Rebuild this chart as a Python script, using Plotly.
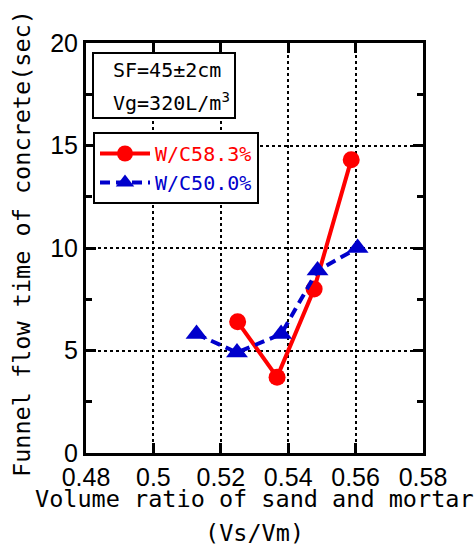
import plotly.graph_objects as go

# ---- data ----
wc583_x = [0.525, 0.5367, 0.5477, 0.5587]
wc583_y = [6.4, 3.7, 8.0, 14.3]
wc500_x = [0.5128, 0.5248, 0.5379, 0.5487, 0.5606]
wc500_y = [5.8, 4.9, 5.8, 8.9, 10.0]
series_names = ["W/C58.3%", "W/C50.0%"]
x_tickvals = [0.48, 0.50, 0.52, 0.54, 0.56, 0.58]
x_ticktext = ["0.48", "0.5", "0.52", "0.54", "0.56", "0.58"]
y_tickvals = [0, 5, 10, 15, 20]
y_ticktext = ["0", "5", "10", "15", "20"]

W, H = 476, 550
L, R, T, B = 86, 53, 43, 97
PW, PH = W - L - R, H - T - B

def px(x):
    return (x - L) / PW

def py(y):
    return (H - B - y) / PH

MONO = "DejaVu Sans Mono"
SANS = "Liberation Sans, Arial"
RED = "#FF0000"
BLUE = "#0000CC"

fig = go.Figure()
fig.add_trace(go.Scatter(
    x=wc583_x, y=wc583_y, mode="lines+markers",
    name=f'<span style="color:{RED}">{series_names[0]}</span>',
    line=dict(color=RED, width=4),
    marker=dict(symbol="circle", size=17, color=RED),
))
fig.add_trace(go.Scatter(
    x=wc500_x, y=wc500_y, mode="lines+markers",
    name=f'<span style="color:{BLUE}">{series_names[1]}</span>',
    line=dict(color=BLUE, width=4, dash="10px,6px"),
    marker=dict(symbol="triangle-up", size=19, color=BLUE),
))

axis_common = dict(
    showline=True, linecolor="black", linewidth=3, mirror="ticks",
    ticks="inside", ticklen=10, tickwidth=2.5, tickcolor="black",
    showgrid=True, gridcolor="black", gridwidth=2, griddash="3px,3px",
    zeroline=False, tickfont=dict(family=SANS, size=25, color="black"),
)

fig.update_xaxes(range=[0.48, 0.58], tickmode="array", tickvals=x_tickvals,
                 ticktext=x_ticktext, **axis_common)
fig.update_yaxes(range=[0, 20], tickmode="array", tickvals=y_tickvals,
                 ticktext=y_ticktext,
                 minor=dict(dtick=2.5, ticks="inside", ticklen=6, tickwidth=2.5,
                            tickcolor="black", showgrid=False),
                 **axis_common)

annotations = [
    dict(text="Volume ratio of sand and mortar", x=0.5, y=py(499), xref="paper", yref="paper",
         xanchor="center", yanchor="middle", showarrow=False,
         font=dict(family=MONO, size=23.5, color="black")),
    dict(text="(Vs/Vm)", x=0.5, y=py(533), xref="paper", yref="paper",
         xanchor="center", yanchor="middle", showarrow=False,
         font=dict(family=MONO, size=23.5, color="black")),
    dict(text="Funnel flow time of concrete(sec)", x=px(22), y=py(244), xref="paper", yref="paper",
         xanchor="center", yanchor="middle", showarrow=False, textangle=-90,
         font=dict(family=MONO, size=23.5, color="black")),
    dict(text="SF=45±2cm", x=px(111), y=py(70), xref="paper", yref="paper",
         xanchor="left", yanchor="middle", showarrow=False,
         font=dict(family=MONO, size=20, color="black")),
    dict(text="Vg=320L/m<sup>3</sup>", x=px(111), y=py(102), xref="paper", yref="paper",
         xanchor="left", yanchor="middle", showarrow=False,
         font=dict(family=MONO, size=20, color="black")),
]

shapes = [
    dict(type="rect", xref="paper", yref="paper", x0=px(93), x1=px(235),
         y0=py(118), y1=py(53), line=dict(color="black", width=2), fillcolor="white",
         layer="above"),
]

fig.update_layout(
    width=W, height=H, margin=dict(l=L, r=R, t=T, b=B, pad=0),
    paper_bgcolor="white", plot_bgcolor="white",
    showlegend=True,
    legend=dict(x=px(93), y=py(132), xanchor="left", yanchor="top",
                bordercolor="black", borderwidth=2, bgcolor="white",
                font=dict(family=MONO, size=20, color="black"),
                itemwidth=50, tracegroupgap=0),
    annotations=annotations, shapes=shapes,
)

fig.write_html("out.html")
